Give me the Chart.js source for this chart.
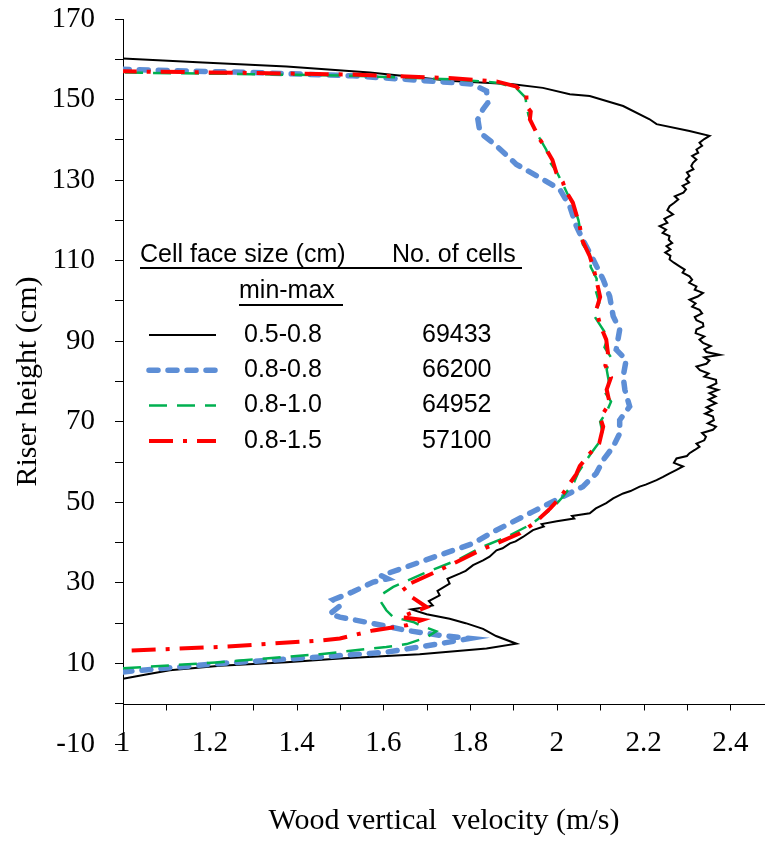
<!DOCTYPE html>
<html lang="en">

<head>
    <meta charset="UTF-8">
    <title>Wood vertical velocity</title>
    <script src="https://cdn.jsdelivr.net/npm/chart.js"></script>
    <style>
        html, body { margin: 0; padding: 0; background: #fff; }
        .grafico { width: 765px; height: 843px; }
    </style>
</head>

<body>
    <div class="grafico">
        <canvas id="myChart" width="765" height="843"></canvas>
    </div>
</body>

</html>

<script>
    // legend table texts
    var headers = ['Cell face size (cm)', 'No. of cells', 'min-max'];
    var faceSizes = ['0.5-0.8', '0.8-0.8', '0.8-1.0', '0.8-1.5'];
    var cellCounts = ['69433', '66200', '64952', '57100'];
    var xTitle = 'Wood vertical  velocity (m/s)';
    var yTitle = 'Riser height (cm)';

    // 0.5-0.8 mesh (velocity m/s, height cm)
    var vel1 = [1.000, 1.050, 1.108, 1.224, 1.377, 1.500, 1.684, 1.838, 1.907, 1.860, 1.830, 1.790, 1.753, 1.700, 1.665, 1.690, 1.714, 1.705, 1.730, 1.725, 1.753, 1.748, 1.776, 1.790, 1.807, 1.830, 1.845, 1.861, 1.875, 1.892, 1.905, 1.922, 1.945, 1.970, 1.965, 2.000, 2.040, 2.035, 2.076, 2.090, 2.114, 2.130, 2.153, 2.170, 2.191, 2.205, 2.230,
        2.245, 2.260, 2.275, 2.291, 2.270, 2.276, 2.300, 2.306, 2.318, 2.329, 2.322, 2.340, 2.344, 2.335, 2.360, 2.367, 2.348, 2.362, 2.360, 2.342, 2.358, 2.345, 2.367, 2.350, 2.366, 2.352, 2.372, 2.350, 2.368, 2.367, 2.340, 2.350, 2.330, 2.322, 2.345, 2.352, 2.340, 2.376, 2.345, 2.340, 2.355, 2.337, 2.329, 2.340, 2.320, 2.322, 2.338, 2.337, 2.322, 2.318, 2.335, 2.329, 2.312, 2.320, 2.306, 2.325, 2.337, 2.318, 2.322, 2.305, 2.312, 2.306, 2.290, 2.295, 2.283, 2.270, 2.260, 2.262, 2.250, 2.262, 2.253, 2.266, 2.258, 2.260, 2.244, 2.252, 2.237, 2.255, 2.248, 2.268, 2.255, 2.260, 2.270, 2.280, 2.272, 2.292, 2.298, 2.290, 2.305, 2.298, 2.306, 2.300, 2.315, 2.310, 2.314, 2.322, 2.312, 2.326, 2.322, 2.335, 2.329, 2.340, 2.352,
        2.306, 2.230, 2.214, 2.153, 2.076, 2.030, 1.968, 1.899, 1.760, 1.569, 1.377, 1.184, 1.000];
    var height1 = [6.2, 7.2, 8.3, 9.4, 10.3, 11.2, 12.3, 13.7, 14.9, 16.8, 18.6, 20.0, 21.1, 22.2, 23.4, 23.8, 24.4, 25.5, 26.9, 28.0, 29.8, 31.0, 32.3, 33.0, 34.4, 35.6, 36.5, 38.1, 38.6, 39.8, 40.3, 41.4, 43.1, 44.0, 44.6, 45.3, 46.0, 46.6, 47.3, 48.5, 49.8, 51.0, 52.2, 52.8, 53.9, 54.4, 55.5,
        56.3, 57.2, 58.0, 58.9, 59.8, 60.9, 61.5, 62.2, 63.0, 63.8, 64.6, 65.4, 66.3, 67.2, 68.0, 68.8, 69.6, 70.4, 71.3, 72.0, 72.8, 73.6, 74.6, 75.5, 76.3, 77.1, 77.9, 78.6, 79.5, 80.4, 81.2, 82.0, 82.8, 83.7, 84.4, 85.2, 86.0, 86.6, 87.3, 88.0, 88.8, 89.6, 90.4, 91.2, 92.0, 92.9, 93.7, 94.5, 95.2, 96.0, 96.9, 97.8, 98.6, 99.4, 100.3, 101.1, 102.0, 102.8, 103.6, 104.5, 105.3, 106.1, 107.0, 107.8, 108.6, 109.5, 110.3, 111.2, 112.0, 112.8, 113.6, 114.4, 115.2, 116.1, 116.9, 117.7, 118.6, 119.4, 120.4, 121.5, 122.5, 123.5, 124.3, 125.2, 126.0, 126.9, 127.7, 128.6, 129.4, 130.2, 131.0, 131.9, 132.7, 133.5, 134.3, 135.1, 136.0, 136.8, 137.6, 138.5, 139.3, 140.2, 141.0,
        142.2, 143.9, 145.1, 148.4, 150.9, 151.3, 152.9, 153.8, 154.6, 156.7, 158.2, 159.2, 160.2];

    // 0.8-0.8 mesh
    var vel2 = [1.000, 1.224, 1.454, 1.607, 1.730, 1.800, 1.730, 1.654, 1.577, 1.500, 1.477, 1.500, 1.484, 1.530, 1.577, 1.610, 1.595, 1.654, 1.730, 1.807, 1.850, 1.945, 2.060, 2.091, 2.107, 2.130, 2.145, 2.145, 2.168, 2.157, 2.153, 2.160, 2.137, 2.145, 2.130, 2.122, 2.107, 2.084, 2.060, 2.045, 2.030, 2.007, 1.968, 1.907, 1.861, 1.823, 1.818, 1.830, 1.841, 1.838, 1.806, 1.760, 1.530, 1.300, 1.000];
    var height2 = [7.9, 10.0, 11.6, 12.8, 14.9, 16.2, 17.0, 18.2, 19.9, 21.5, 22.3, 24.3, 25.8, 27.8, 30.2, 31.0, 31.8, 34.0, 36.9, 39.8, 42.5, 47.7, 53.9, 57.2, 60.5, 63.8, 67.1, 70.4, 73.8, 77.9, 81.2, 85.4, 87.9, 92.9, 96.2, 101.1, 105.3, 110.3, 115.2, 118.6, 123.5, 127.7, 130.2, 133.9, 138.5, 141.8, 145.1, 147.6, 149.2, 152.1, 153.8, 154.2, 155.9, 156.7, 157.5];

    // 0.8-1.0 mesh
    var vel3 = [1.000, 1.224, 1.454, 1.607, 1.654, 1.700, 1.722, 1.684, 1.669, 1.623, 1.607, 1.592, 1.600, 1.623, 1.692, 1.769, 1.830, 1.884, 1.940, 1.990, 2.015, 2.040, 2.050, 2.062, 2.080, 2.095, 2.105, 2.100, 2.115, 2.125, 2.110, 2.120, 2.115, 2.125, 2.110, 2.118, 2.100, 2.085, 2.098, 2.090, 2.092, 2.078, 2.080, 2.060, 2.055, 2.050, 2.040, 2.025, 2.014, 2.000, 1.984, 1.976, 1.960, 1.945, 1.935, 1.930, 1.928, 1.905, 1.861, 1.760, 1.530, 1.300, 1.000];
    var height3 = [8.8, 10.3, 12.3, 14.1, 14.8, 16.5, 18.0, 19.5, 20.3, 21.5, 23.2, 25.7, 27.4, 29.0, 32.3, 35.6, 39.0, 41.4, 44.5, 48.5, 51.5, 55.0, 57.5, 59.5, 62.3, 64.5, 67.5, 70.0, 72.5, 75.0, 77.5, 80.0, 83.0, 86.0, 88.5, 91.0, 94.0, 96.5, 99.5, 102.5, 105.5, 108.5, 111.0, 114.0, 117.0, 120.0, 123.5, 126.5, 129.0, 132.0, 134.5, 137.5, 140.5, 143.5, 146.0, 148.5, 150.5, 153.0, 154.2, 155.0, 155.9, 156.3, 156.7];

    // 0.8-1.5 mesh
    var vel4 = [1.020, 1.224, 1.454, 1.500, 1.577, 1.654, 1.690, 1.640, 1.700, 1.660, 1.645, 1.714, 1.769, 1.823, 1.861, 1.915, 1.950, 1.985, 2.010, 2.030, 2.045, 2.053, 2.075, 2.098, 2.107, 2.100, 2.122, 2.115, 2.125, 2.112, 2.118, 2.114, 2.100, 2.091, 2.100, 2.091, 2.085, 2.076, 2.058, 2.053, 2.045, 2.037, 2.020, 2.014, 1.999, 1.990, 1.976, 1.961, 1.950, 1.938, 1.940, 1.930, 1.930, 1.907, 1.861, 1.760, 1.530, 1.300, 1.000];
    var height4 = [13.2, 14.1, 15.7, 16.2, 18.2, 19.5, 20.8, 21.5, 24.0, 26.9, 29.0, 32.4, 35.2, 38.1, 39.8, 42.3, 45.0, 48.5, 51.5, 54.7, 57.0, 59.0, 62.0, 64.7, 68.8, 71.0, 74.6, 78.0, 81.0, 84.0, 87.0, 90.4, 94.0, 97.8, 101.0, 105.3, 108.0, 111.1, 115.2, 118.6, 121.5, 124.4, 127.5, 129.5, 131.8, 135.0, 137.6, 140.1, 142.5, 145.1, 147.0, 148.4, 151.0, 153.2, 154.5, 155.3, 156.2, 156.6, 157.0];

    function pares(vel, alt) {
        var lista = [];
        for (var i = 0; i < vel.length; i++) {
            lista.push({ x: vel[i], y: alt[i] });
        }
        return lista;
    }

    var fonteSerif = '"Liberation Serif", "Times New Roman", serif';
    var fonteSans = '"Liberation Sans", Arial, sans-serif';

    // x axis drawn at height 0 with minor ticks every 0.1
    const eixoZero = {
        id: 'eixoZero',
        afterDraw(chart) {
            const ctx = chart.ctx;
            const sx = chart.scales.x;
            const sy = chart.scales.y;
            const py = Math.round(sy.getPixelForValue(0)) + 0.5;
            ctx.save();
            ctx.strokeStyle = '#000';
            ctx.lineWidth = 1;
            ctx.beginPath();
            ctx.moveTo(chart.chartArea.left, py);
            ctx.lineTo(chart.width, py);
            for (var t = 10; t <= 25; t++) {
                var px = Math.round(sx.getPixelForValue(t / 10)) + 0.5;
                ctx.moveTo(px, py);
                ctx.lineTo(px, py + 6);
            }
            ctx.stroke();
            ctx.restore();
        }
    };

    // table-like legend inside the plot
    const legendaTabela = {
        id: 'legendaTabela',
        afterDatasetsDraw(chart) {
            const ctx = chart.ctx;
            ctx.save();
            ctx.font = '25px ' + fonteSans;
            ctx.fillStyle = '#000';
            ctx.textBaseline = 'middle';
            ctx.textAlign = 'left';
            ctx.fillText(headers[0], 140, 255);
            ctx.fillText(headers[1], 392, 255);
            ctx.fillText(headers[2], 239, 291);
            ctx.fillRect(140, 267, 382, 2);
            ctx.fillRect(239, 304, 104, 2);

            var ordem = [0, 1, 2, 3];
            ordem.forEach(function (i) {
                var ds = chart.data.datasets[i];
                var ry = 335 + i * 35.3;
                ctx.save();
                ctx.strokeStyle = ds.borderColor;
                ctx.lineWidth = ds.borderWidth;
                ctx.setLineDash(ds.borderDash || []);
                ctx.lineCap = ds.borderCapStyle || 'butt';
                ctx.beginPath();
                ctx.moveTo(149, ry);
                ctx.lineTo(216, ry);
                ctx.stroke();
                ctx.restore();
                ctx.fillText(faceSizes[i], 244, ry);
                ctx.fillText(cellCounts[i], 422, ry);
            });
            ctx.restore();
        }
    };

    function semFolga(s) {
        s.paddingTop = 0;
        s.paddingBottom = 0;
        s.paddingLeft = 0;
        s.paddingRight = 0;
    }

    const ctx = document.getElementById('myChart');

    new Chart(ctx, {
        type: 'scatter',
        data: {
            datasets: [{
                label: faceSizes[0],
                data: pares(vel1, height1),
                showLine: true,
                borderColor: '#000000',
                borderWidth: 2,
                order: 4
            },
            {
                label: faceSizes[1],
                data: pares(vel2, height2),
                showLine: true,
                borderColor: 'rgb(93, 142, 214)',
                borderWidth: 5.5,
                borderDash: [9, 10],
                borderCapStyle: 'round',
                order: 3
            },
            {
                label: faceSizes[2],
                data: pares(vel3, height3),
                showLine: true,
                borderColor: 'rgb(0, 176, 80)',
                borderWidth: 2.5,
                borderDash: [18, 10],
                order: 2
            },
            {
                label: faceSizes[3],
                data: pares(vel4, height4),
                showLine: true,
                borderColor: 'rgb(255, 0, 0)',
                borderWidth: 4,
                borderDash: [24, 10, 4, 10],
                order: 1
            }]
        },
        options: {
            responsive: false,
            animation: false,
            layout: { padding: { top: 19, right: 0, left: 0, bottom: 0 } },
            elements: { point: { radius: 0, hoverRadius: 0 }, line: { tension: 0 } },
            plugins: {
                legend: { display: false },
                tooltip: { enabled: false }
            },
            scales: {
                x: {
                    type: 'linear',
                    min: 1,
                    max: 2.48,
                    afterFit: function (s) { s.height = 99; semFolga(s); },
                    grid: { display: false, drawTicks: false },
                    border: { display: false },
                    ticks: {
                        stepSize: 0.1,
                        includeBounds: false,
                        autoSkip: false,
                        maxRotation: 0,
                        mirror: true,
                        padding: -17,
                        color: '#000',
                        font: { family: fonteSerif, size: 29 },
                        callback: function (v) {
                            var t = Math.round(v * 10);
                            return t % 2 === 0 ? String(t / 10) : '';
                        }
                    },
                    title: {
                        display: true,
                        text: xTitle,
                        color: '#000',
                        font: { family: fonteSerif, size: 30 },
                        padding: { top: 0, bottom: 4 }
                    }
                },
                y: {
                    min: -10,
                    max: 170,
                    afterFit: function (s) { s.width = 123; semFolga(s); },
                    grid: { drawOnChartArea: false, drawTicks: true, tickLength: 8, color: '#000' },
                    border: { display: true, color: '#000', width: 1 },
                    ticks: {
                        stepSize: 10,
                        autoSkip: false,
                        padding: 20,
                        color: '#000',
                        font: { family: fonteSerif, size: 29 },
                        callback: function (v) {
                            return (Math.round(v) + 10) % 20 === 0 ? String(Math.round(v)) : '';
                        }
                    },
                    title: {
                        display: true,
                        text: yTitle,
                        color: '#000',
                        font: { family: fonteSerif, size: 30 },
                        padding: { top: 10, bottom: 0 }
                    }
                }
            }
        },
        plugins: [eixoZero, legendaTabela]
    });
</script>
